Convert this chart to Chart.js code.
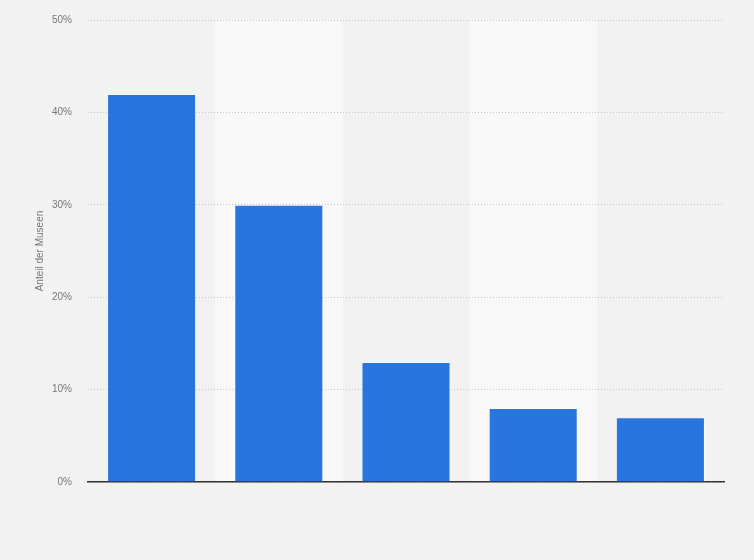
<!DOCTYPE html>
<html>
<head>
<meta charset="utf-8">
<script src="https://cdn.jsdelivr.net/npm/chart.js@4/dist/chart.umd.min.js"></script>
<style>
  html, body { margin: 0; padding: 0; background: #f2f2f2; }
  #wrap { width: 754px; height: 560px; }
</style>
</head>
<body>
<div id="wrap"><canvas id="bar"></canvas></div>
<script>
const categories = ["1", "2", "3", "4", "5"];
const shares = [42, 30, 13, 8, 7];
const yTicks = [0, 10, 20, 30, 40, 50];

const bands = {
    id: "bands",
    beforeDraw(chart) {
        const ctx = chart.ctx;
        const x = chart.scales.x;
        const area = chart.chartArea;
        ctx.save();
        ctx.fillStyle = "#f2f2f2";
        ctx.fillRect(0, 0, chart.width, chart.height);
        const step = (area.right - area.left) / categories.length;
        ctx.fillStyle = "#f8f8f8";
        categories.forEach((c, i) => {
            if (i % 2 === 1) {
                const cx = x.getPixelForValue(i);
                ctx.fillRect(cx - step / 2, area.top, step, area.bottom - area.top);
            }
        });
        ctx.restore();
    }
};

const barChartDiv = document.getElementById("bar");
const barChart = new Chart(barChartDiv,
    {
        type: "bar",
        data: {
            labels: categories,
            datasets: [
                {
                    label: "Anteil der Museen",
                    data: shares,
                    backgroundColor: "#2876dd",
                    borderColor: "rgba(255,255,255,0.35)",
                    borderWidth: { top: 1, left: 1, right: 1, bottom: 0 },
                    barPercentage: 0.7,
                    categoryPercentage: 1
                }
            ]
        },
        options: {
            responsive: true,
            maintainAspectRatio: false,
            animation: false,
            layout: { padding: { left: 30, right: 30, top: 20, bottom: 70 } },
            plugins: {
                legend: { display: false },
                tooltip: { enabled: false }
            },
            scales: {
                x: {
                    ticks: { display: false },
                    grid: { display: false },
                    border: { display: true, color: "#333333", width: 1.5 }
                },
                y: {
                    min: 0,
                    max: 50,
                    afterBuildTicks: (scale) => { scale.ticks = yTicks.map(v => ({ value: v })); },
                    afterFit: (scale) => { scale.width = 58; scale.paddingTop = 0; scale.paddingBottom = 0; },
                    ticks: {
                        padding: 16,
                        color: "#777777",
                        font: { family: "Liberation Sans, Arial", size: 10 },
                        callback: (v) => v + "%"
                    },
                    grid: { color: "#c8c8c8", drawTicks: false, lineWidth: 1 },
                    border: { display: false, dash: [1, 2] },
                    title: {
                        display: true,
                        text: "Anteil der Museen",
                        color: "#777777",
                        font: { family: "Liberation Sans, Arial", size: 10 }
                    }
                }
            }
        },
        plugins: [bands]
    });
</script>
</body>
</html>
